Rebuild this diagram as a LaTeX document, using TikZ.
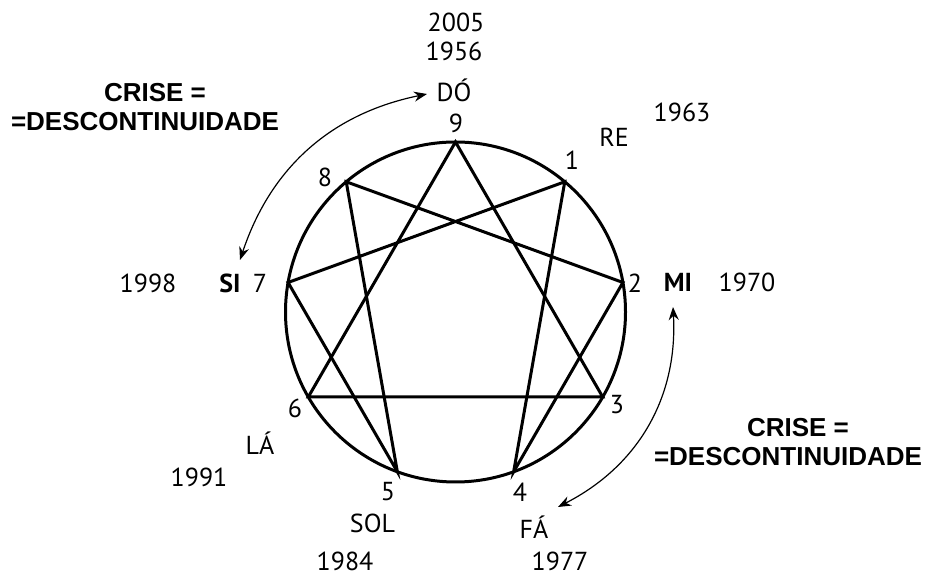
\documentclass[tikz,border=0pt]{standalone}
\usepackage{fontspec}
\setmainfont{PT Sans}
\newfontfamily\crisefont{Liberation Sans}
\usetikzlibrary{calc,arrows.meta}
\begin{document}
\begin{tikzpicture}[x=0.5pt,y=0.5pt,
	lbl/.style={font=\fontsize{13}{15}\selectfont, inner sep=0pt},
	crise/.style={font=\crisefont\bfseries\fontsize{13}{14.5}\selectfont, align=center, inner sep=0pt},
	star line/.style={line width=1.5pt, line join=miter},
	crisis arrow/.style={{Stealth[length=6.5pt,width=5pt]}-{Stealth[length=6.5pt,width=5pt]}, line width=0.6pt}]
	\useasboundingbox (0,0) rectangle (926,577);
	\coordinate (c) at (455.5,265);
	\foreach \n in {0,...,8}
		\coordinate (p\n) at ($(c)+({90-40*\n}:170)$);
	\draw [star line] (c) circle [radius=170];
	\draw [star line] (p0) -- (p3) -- (p6) -- cycle;
	\draw [star line] (p1) -- (p4) -- (p2) -- (p8) -- (p5) -- (p7) -- cycle;
	% numbers
	\node [lbl] (n9) at (456,454) {9};
	\node [lbl] (n1) at (572,417) {1};
	\node [lbl] (n2) at (635,294) {2};
	\node [lbl] (n3) at (617,172) {3};
	\node [lbl] (n4) at (520,85) {4};
	\node [lbl] (n5) at (388,85) {5};
	\node [lbl] (n6) at (295,169) {6};
	\node [lbl] (n7) at (260,294) {7};
	\node [lbl] (n8) at (325,400) {8};
	% notes
	\node [lbl] (do) at (454,487) {DÓ};
	\node [lbl] (re) at (614,440) {RE};
	\node [lbl,font=\bfseries\fontsize{13}{15}\selectfont] (mi) at (678,295) {MI};
	\node [lbl] (fa) at (534,50) {FÁ};
	\node [lbl] (sol) at (372.5,54) {SOL};
	\node [lbl] (la) at (260,134) {LÁ};
	\node [lbl,font=\bfseries\fontsize{13}{15}\selectfont] (si) at (230,294) {SI};
	% years
	\node [lbl] (y2005) at (456,554.5) {2005};
	\node [lbl] (y1956) at (454,526) {1956};
	\node [lbl] (y1963) at (682,464.5) {1963};
	\node [lbl] (y1970) at (747,295) {1970};
	\node [lbl] (y1977) at (560,16) {1977};
	\node [lbl] (y1984) at (345,16) {1984};
	\node [lbl] (y1991) at (199,99.5) {1991};
	\node [lbl] (y1998) at (148,294) {1998};
	% crises
	\node [crise] (criseSiDo) at (145,469.5) {\hspace*{10pt}CRISE =\\=DESCONTINUIDADE};
	\node [crise] (criseMiFa) at (788,134.5) {\hspace*{10pt}CRISE =\\=DESCONTINUIDADE};
	\coordinate (siTip) at (240,317);
	\coordinate (doTip) at (427,483);
	\coordinate (miTip) at (673,270);
	\coordinate (faTip) at (558,70);
	\draw [crisis arrow] (siTip) to [bend left=30] (doTip);
	\draw [crisis arrow] (miTip) to [bend left=33] (faTip);
\end{tikzpicture}
\end{document}
